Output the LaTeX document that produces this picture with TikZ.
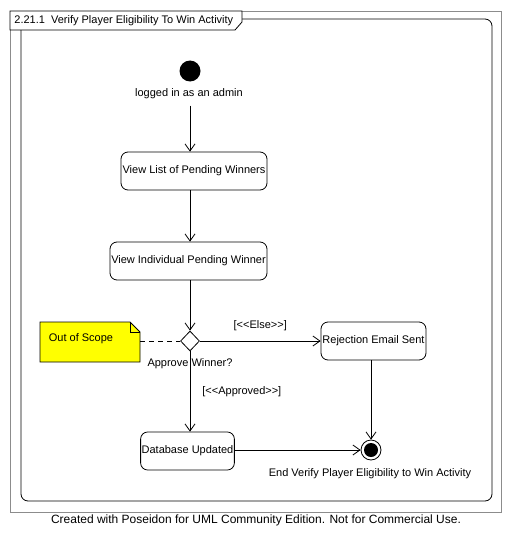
\documentclass[tikz,border=0pt]{standalone}
\usepackage{fontspec}
\setmainfont{Liberation Sans}
\usetikzlibrary{arrows.meta,positioning,shapes.geometric,calc}
\definecolor{noteyellow}{HTML}{FFFF00}
\definecolor{framegray}{HTML}{8C8C8C}

\begin{document}
\begin{tikzpicture}[x=1pt,y=-1pt,line width=0.8pt,>={Straight Barb[length=7pt,width=10pt]},
    font=\fontsize{11}{13}\selectfont,
    act/.style={draw,rounded corners=7pt,inner sep=1pt,minimum height=38pt},
    flow/.style={->},
    lbl/.style={inner sep=0pt}]
  \useasboundingbox (0,0) rectangle (512,543);
  \draw[framegray] (10,11) rectangle (501,512);
  \draw[rounded corners=7pt] (21,19) rectangle (492,501);
  \filldraw[fill=white] (10,11) -- (242,11) -- (242,22) -- (235,30) -- (10,30) -- cycle;
  \node[lbl,anchor=west] (title) at (14,20.5) {2.21.1\ \ Verify Player Eligibility To Win Activity};

  \node[circle,fill,minimum size=21pt,inner sep=0pt] (start) at (190,71) {};
  \node[lbl] (startlbl) at (189,94) {logged in as an admin};
  \node[act,minimum width=146pt] (vlist) at (194,171) {View List of Pending Winners};
  \node[act,minimum width=157pt] (vind) at (188.5,261) {View Individual Pending Winner};
  \node[diamond,draw,minimum width=19pt,minimum height=20pt,inner sep=0pt] (dia) at (190,341) {};
  \node[lbl] (dialbl) at (190,364) {Approve Winner?};
  \node[act,minimum width=105pt] (rej) at (373.5,341) {Rejection Email Sent};
  \node[act,minimum width=93pt] (db) at (187.5,451) {Database Updated};
  \node[circle,draw,minimum size=20pt,inner sep=0pt] (end) at (371,450) {};
  \fill (end.center) circle (7pt);
  \node[lbl] (endlbl) at (370,474) {End Verify Player Eligibility to Win Activity};

  \filldraw[fill=noteyellow] (40,322) -- (130,322) -- (140,332) -- (140,362) -- (40,362) -- cycle;
  \draw (130,322) -- (130,332) -- (140,332);
  \node[lbl,minimum width=100pt,minimum height=40pt] (note) at (90,342) {};
  \node[lbl] (notetxt) at (81,339) {Out of Scope};

  \draw[flow] (startlbl.south -| start) ++(0,6) -- (vlist.north -| start);
  \draw[flow] (vlist.south -| start) -- (vind.north -| start);
  \draw[flow] (vind.south -| dia) -- (dia.north);
  \draw[flow] (dia.east) -- node[lbl,above=10pt] (elselbl) {[{<}{<}Else{>}{>}]} (rej.west);
  \draw[flow] (dia.south) -- node[lbl,right=12pt] (apprlbl) {[{<}{<}Approved{>}{>}]} (db.north -| dia);
  \draw[flow] (rej.south -| end) -- (end.north);
  \draw[flow] (db.east |- end) -- (end.west);
  \draw[dashed,dash pattern=on 5pt off 4pt] (note.east |- dia) -- (dia.west);

  \node[lbl,font=\fontsize{12}{14}\selectfont] (footer) at (256,520) {Created with Poseidon for UML Community Edition. Not for Commercial Use.};
\end{tikzpicture}
\end{document}
